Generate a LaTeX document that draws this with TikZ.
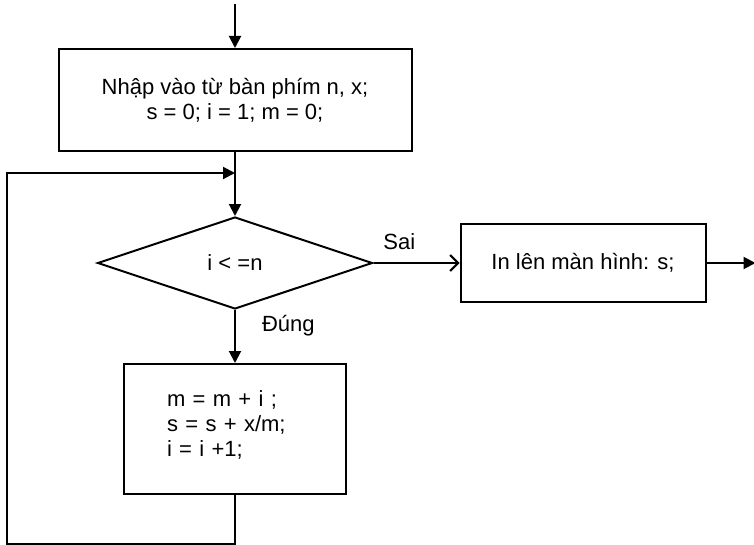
\documentclass[tikz,border=0pt]{standalone}
\usepackage{fontspec}
\setmainfont{Liberation Sans}
\usetikzlibrary{arrows.meta, positioning, shapes.geometric, calc}

\begin{document}
\begin{tikzpicture}[
		node distance=30pt and 40pt,
		>=Latex,
		font=\fontsize{11}{12.5}\selectfont,
		process/.style ={draw, line width=1pt, align=center, inner sep=3pt, minimum width=176.5pt, minimum height=51pt},
		decision/.style={draw, line width=1pt, diamond, aspect=3, inner sep=0pt, minimum width=137.5pt, minimum height=46pt},
		output/.style  ={draw, line width=1pt, align=center, inner sep=3pt, minimum width=122.5pt, minimum height=39pt},
		body/.style    ={draw, line width=1pt, align=left, inner xsep=21.5pt, text width=68pt, minimum height=65pt},
		flow/.style    ={-{Triangle[length=6pt, width=6pt]}, line width=1pt},
		thinarrow/.style={-{Straight Barb[length=4pt, width=8pt]}, line width=1pt},
		lab/.style     ={inner sep=1pt}
		]
		\useasboundingbox (0,0) rectangle (377pt,-272.5pt);

		% --- Input and loop test ---
		\node[process] (input) at (117.5pt,-50pt) {Nhập vào từ bàn phím n, x;\\ s = 0; i = 1; m = 0;};
		\node[decision, below=32pt of input] (cond) {i < =n};
		\node[output, right=43pt of cond]   (print) {In lên màn hình: s;};
		\node[body, below=26.5pt of cond]   (step) {m = m + i ;\\ s = s + x/m;\\ i = i +1;\vspace{4pt}};

		\coordinate (start) at ($(input.north)+(0,22pt)$);
		\coordinate (join)  at ($(input.south)+(0,-10.5pt)$);
		\coordinate (stop)  at ($(print.east)+(24.5pt,0)$);
		\coordinate (loopcorner) at ($(step.south)+(-114pt,-24.5pt)$);

		\draw[flow] (start) -- (input);
		\draw[flow] (input) -- (cond);
		\draw[thinarrow] (cond) -- node[lab, above, pos=0.3, yshift=5pt] {Sai} (print);
		\draw[flow] (cond) -- node[lab, right, pos=0.3, xshift=12pt] {Đúng} (step);
		\draw[flow] (print) -- (stop);

		% loop back to the test
		\draw[flow] (step.south) |- (loopcorner) |- (join);
	\end{tikzpicture}
\end{document}
